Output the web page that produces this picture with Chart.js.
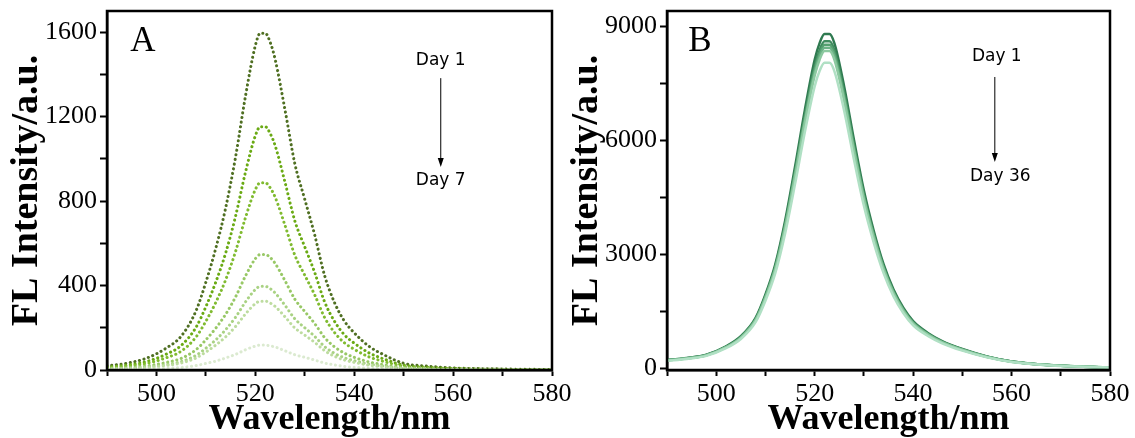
<!DOCTYPE html>
<html>
<head>
<meta charset="utf-8">
<script src="https://cdn.jsdelivr.net/npm/chart.js@4.4.0/dist/chart.umd.min.js"></script>
<style>
  html, body { margin: 0; padding: 0; background: #fff; }
  #wrap { position: relative; width: 1135px; height: 438px; overflow: hidden; }
  .panel { position: absolute; top: 0; height: 438px; }
  #panelA { left: 0; width: 580px; }
  #panelB { left: 560px; width: 575px; }
</style>
</head>
<body>
<div id="wrap">
  <div class="panel" id="panelA"><canvas id="chartA"></canvas></div>
  <div class="panel" id="panelB"><canvas id="chartB"></canvas></div>
</div>
<script>
// wavelengths (nm), shared by both panels
const wavelengths = [490, 494, 498, 502, 505, 508, 510, 512, 514, 516, 518, 520, 521, 522, 523, 524, 526, 528, 530, 532, 534, 536, 538, 540, 543, 546, 550, 555, 560, 570, 580];

// panel A, day 1 -> day 7
const panelA1 = [20, 32, 56, 104, 160, 280, 416, 576, 768, 1008, 1296, 1536, 1595, 1595, 1552, 1472, 1232, 976, 808, 640, 448, 320, 232, 176, 112, 72, 32, 18, 10, 5, 2];
const panelA2 = [14, 23, 40, 75, 116, 202, 300, 416, 554, 728, 936, 1109, 1152, 1152, 1120, 1063, 889, 705, 583, 462, 323, 231, 167, 127, 81, 52, 23, 13, 7, 3, 1];
const panelA3 = [11, 18, 31, 58, 89, 156, 231, 320, 427, 561, 721, 854, 887, 887, 863, 819, 685, 543, 449, 356, 249, 178, 129, 98, 62, 40, 18, 10, 5, 3, 1];
const panelA4 = [7, 11, 19, 36, 55, 96, 143, 198, 264, 346, 445, 527, 547, 547, 533, 505, 423, 335, 277, 220, 154, 110, 80, 60, 38, 25, 11, 6, 3, 2, 1];
const panelA5 = [5, 8, 14, 26, 40, 69, 103, 143, 191, 250, 322, 381, 396, 396, 385, 365, 306, 242, 200, 159, 111, 79, 58, 44, 28, 18, 8, 4, 2, 1, 0];
const panelA6 = [4, 7, 11, 21, 33, 57, 85, 118, 157, 206, 265, 314, 326, 326, 317, 301, 252, 199, 165, 131, 92, 65, 47, 36, 23, 15, 7, 4, 2, 1, 0];
const panelA7 = [1, 2, 4, 8, 12, 21, 31, 42, 57, 74, 96, 113, 118, 118, 114, 109, 91, 72, 60, 47, 33, 24, 17, 13, 8, 5, 2, 1, 1, 0, 0];

// panel B, day 1 -> day 36
const panelB1 = [212, 265, 353, 573, 838, 1323, 1940, 2734, 3881, 5292, 6791, 8114, 8555, 8794, 8794, 8555, 7409, 5998, 4675, 3616, 2734, 2073, 1588, 1235, 926, 706, 503, 309, 176, 62, 18];
const panelB2 = [207, 259, 345, 561, 820, 1295, 1899, 2675, 3797, 5178, 6645, 7940, 8371, 8604, 8604, 8371, 7249, 5868, 4574, 3538, 2675, 2028, 1553, 1208, 906, 690, 492, 302, 173, 60, 17];
const panelB3 = [205, 256, 342, 555, 811, 1281, 1879, 2647, 3758, 5124, 6576, 7857, 8284, 8514, 8514, 8284, 7174, 5807, 4526, 3501, 2647, 2007, 1537, 1196, 897, 683, 487, 299, 171, 60, 17];
const panelB4 = [203, 254, 338, 550, 804, 1269, 1861, 2623, 3722, 5076, 6514, 7783, 8206, 8435, 8435, 8206, 7106, 5753, 4484, 3469, 2623, 1988, 1523, 1184, 888, 677, 482, 296, 169, 59, 17];
const panelB5 = [201, 251, 335, 544, 795, 1256, 1841, 2595, 3683, 5022, 6445, 7700, 8119, 8345, 8345, 8119, 7031, 5692, 4436, 3432, 2595, 1967, 1507, 1172, 879, 670, 477, 293, 167, 59, 17];
const panelB6 = [193, 242, 322, 524, 766, 1209, 1773, 2499, 3546, 4836, 6206, 7415, 7818, 8036, 8036, 7818, 6770, 5481, 4272, 3305, 2499, 1894, 1451, 1128, 846, 645, 459, 282, 161, 56, 16];

const colorsA = ['#4f6f22', '#6aaa14', '#80bb30', '#98c866', '#a9d283', '#bddc9f', '#dbead0'];
const colorsB = ['#2f7a50', '#3f8c5e', '#55a070', '#6cb386', '#8cc9a0', '#b0e0c4'];

// text notes, placed in data coordinates
const notesA = { letter: 'A', letterAt: [494.7, 1552], top: 'Day 1', topAt: [557.5, 1467], bottom: 'Day 7', bottomAt: [557.5, 899], arrow: [557.5, 1382, 961] };
const notesB = { letter: 'B', letterAt: [494.3, 8584], top: 'Day 1', topAt: [557.0, 8189], bottom: 'Day 36', bottomAt: [557.7, 5030], arrow: [556.6, 7663, 5425] };

const serif = "'Liberation Serif', 'Times New Roman', serif";

const framePlugin = {
  id: 'frame',
  afterDraw(chart) {
    const { ctx, chartArea: a, scales } = chart;
    const n = chart.options.plugins.frame;
    ctx.save();
    ctx.strokeStyle = '#000';
    ctx.lineWidth = 2.5;
    ctx.strokeRect(a.left, a.top, a.right - a.left, a.bottom - a.top);

    const px = v => scales.x.getPixelForValue(v);
    const py = v => scales.y.getPixelForValue(v);

    ctx.fillStyle = '#000';
    ctx.font = '35px ' + serif;
    ctx.textAlign = 'left';
    ctx.textBaseline = 'middle';
    ctx.fillText(n.letter, px(n.letterAt[0]), py(n.letterAt[1]));

    ctx.font = "17px 'DejaVu Sans', sans-serif";
    ctx.textAlign = 'center';
    ctx.fillText(n.top, px(n.topAt[0]), py(n.topAt[1]));
    ctx.fillText(n.bottom, px(n.bottomAt[0]), py(n.bottomAt[1]));

    const ax = px(n.arrow[0]), y1 = py(n.arrow[1]), y2 = py(n.arrow[2]);
    ctx.lineWidth = 1;
    ctx.beginPath();
    ctx.moveTo(ax, y1);
    ctx.lineTo(ax, y2 - 6);
    ctx.stroke();
    ctx.beginPath();
    ctx.moveTo(ax, y2);
    ctx.lineTo(ax - 3, y2 - 9);
    ctx.lineTo(ax + 3, y2 - 9);
    ctx.closePath();
    ctx.fill();
    ctx.restore();
  }
};

function stepTicks(step) {
  return s => {
    const t = [];
    for (let v = Math.ceil(s.min / step) * step; v <= s.max; v += step) t.push({ value: v });
    s.ticks = t;
  };
}

function makeChart(id, seriesList, colors, dotted, yOpts, padRight, notes) {
  const datasets = seriesList.map((s, i) => ({
    data: s.map((v, k) => ({ x: wavelengths[k], y: v })),
    borderColor: colors[i],
    borderWidth: dotted ? 3 : 2.5,
    borderDash: dotted ? [0.1, 4.6] : [],
    borderCapStyle: 'round',
    pointRadius: 0,
    cubicInterpolationMode: 'monotone',
    fill: false
  })).reverse();

  return new Chart(document.getElementById(id), {
    type: 'line',
    data: { datasets },
    options: {
      responsive: true,
      maintainAspectRatio: false,
      animation: false,
      layout: { padding: { top: 11, right: padRight, bottom: 0, left: 0 } },
      plugins: { legend: { display: false }, tooltip: { enabled: false }, frame: notes },
      scales: {
        x: {
          type: 'linear',
          min: 490,
          max: 580,
          border: { color: '#000', width: 2.5 },
          grid: { drawOnChartArea: false, tickLength: 6, tickWidth: 2, tickColor: '#000' },
          afterBuildTicks: stepTicks(10),
          ticks: {
            autoSkip: false,
            maxRotation: 0,
            padding: 3,
            color: '#000',
            font: { family: serif, size: 26 },
            callback: v => (v % 20 === 0 ? v : '')
          },
          title: {
            display: true,
            text: 'Wavelength/nm',
            color: '#000',
            font: { family: serif, size: 36, weight: 'bold', lineHeight: 1 },
            padding: { top: 0, bottom: 0 }
          },
          afterFit: s => { s.height = 68; s.paddingLeft = 0; s.paddingRight = 0; }
        },
        y: {
          min: yOpts.min,
          max: yOpts.max,
          border: { color: '#000', width: 2.5 },
          grid: { drawOnChartArea: false, tickLength: 7, tickWidth: 2, tickColor: '#000' },
          afterBuildTicks: stepTicks(yOpts.step),
          ticks: {
            autoSkip: false,
            padding: 3,
            color: '#000',
            font: { family: serif, size: 26 },
            callback: v => (v % yOpts.labelEvery === 0 ? v : '')
          },
          title: {
            display: true,
            text: 'FL Intensity/a.u.',
            color: '#000',
            font: { family: serif, size: 38, weight: 'bold', lineHeight: 1 },
            padding: { top: 8, bottom: 0 }
          },
          afterFit: s => { s.width = 107; s.paddingTop = 0; s.paddingBottom = 0; }
        }
      }
    },
    plugins: [framePlugin]
  });
}

makeChart('chartA',
  [panelA1, panelA2, panelA3, panelA4, panelA5, panelA6, panelA7],
  colorsA, true,
  { min: 0, max: 1700, step: 200, labelEvery: 400 },
  28, notesA);

makeChart('chartB',
  [panelB1, panelB2, panelB3, panelB4, panelB5, panelB6],
  colorsB, false,
  { min: -50, max: 9400, step: 1500, labelEvery: 3000 },
  25, notesB);
</script>
</body>
</html>
